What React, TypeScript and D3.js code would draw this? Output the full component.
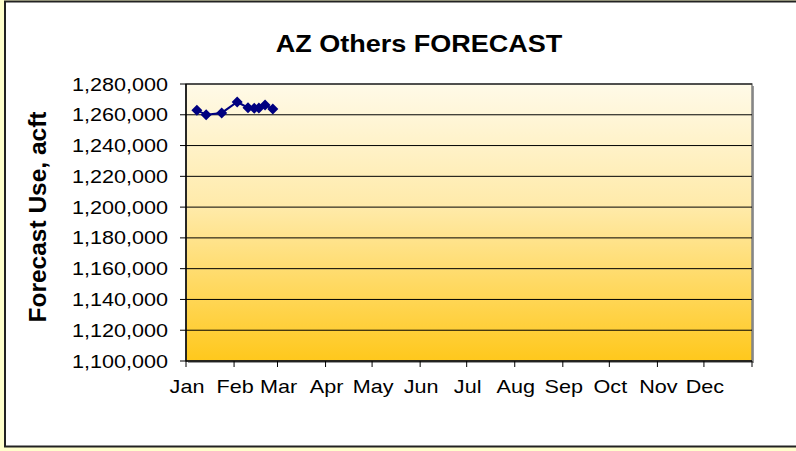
import React from "react";
import * as d3 from "d3";

const dates = ["2007-01-08", "2007-01-14", "2007-01-24", "2007-02-03", "2007-02-10", "2007-02-14", "2007-02-17", "2007-02-21", "2007-02-26"];
const values = [1263000, 1260000, 1261200, 1268300, 1264600, 1264300, 1264400, 1266300, 1263800];
const monthLabels = ["Jan", "Feb", "Mar", "Apr", "May", "Jun", "Jul", "Aug", "Sep", "Oct", "Nov", "Dec"];
const yTicks = [1100000, 1120000, 1140000, 1160000, 1180000, 1200000, 1220000, 1240000, 1260000, 1280000];

export default function App() {
  const W = 796, H = 451;
  const L = 186, R = 752, T = 84, B = 361;
  const parse = d3.timeParse("%Y-%m-%d");
  const x = d3.scaleTime().domain([new Date(2007, 0, 1), new Date(2008, 0, 1)]).range([L, R]);
  const y = d3.scaleLinear().domain([1100000, 1280000]).range([B, T]);
  const fmt = d3.format(",");
  const pts = dates.map((d, i) => ({ d: parse(d) as Date, v: values[i] }));
  const line = d3.line<{ d: Date; v: number }>().x(p => x(p.d)).y(p => y(p.v));
  const months = monthLabels.map((m, i) => ({ m, date: new Date(2007, i, 1) }));
  const font = "'Liberation Sans', Arial, sans-serif";
  const ds = 5.5;
  const sx = 1.2;
  return (
    <svg width={W} height={H} style={{ position: "absolute", left: 0, top: 0 }}>
      <defs>
        <linearGradient id="bg" x1="0" y1="0" x2="0" y2="1">
          <stop offset="0" stopColor="#FFFAE8" />
          <stop offset="0.45" stopColor="#FFEAA8" />
          <stop offset="1" stopColor="#FFC81C" />
        </linearGradient>
      </defs>
      <rect x={0} y={0} width={W} height={H} fill="#FFFFCC" />
      <rect x={5} y={1.5} width={W} height={445} fill="#FFFFFF" stroke="#222" strokeWidth={2} />
      <text transform={`translate(419,52) scale(1.15,1)`} textAnchor="middle" fontFamily={font} fontWeight="bold" fontSize={23.5}>AZ Others FORECAST</text>
      <rect x={L + 2} y={T + 2} width={R - L} height={B - T} fill="#9a9a9a" />
      <rect x={L} y={T} width={R - L} height={B - T} fill="url(#bg)" stroke="#808080" strokeWidth={1.5} />
      {yTicks.map(t => (
        <g key={t}>
          {t > 1100000 && <line x1={L} x2={R} y1={y(t)} y2={y(t)} stroke="#000" strokeWidth={1} />}
          <line x1={L - 6} x2={L} y1={y(t)} y2={y(t)} stroke="#000" strokeWidth={1} />
          <text transform={`translate(168,${y(t) + 6.5}) scale(${sx},1)`} textAnchor="end" fontFamily={font} fontSize={18}>{fmt(t)}</text>
        </g>
      ))}
      <line x1={L} x2={L} y1={T} y2={B} stroke="#000" strokeWidth={1.5} />
      <line x1={L} x2={R} y1={B} y2={B} stroke="#000" strokeWidth={1.5} />
      {months.map(({ m, date }) => (
        <g key={m}>
          <line x1={x(date)} x2={x(date)} y1={B} y2={B + 6} stroke="#000" strokeWidth={1} />
          <text transform={`translate(${x(date) + 1},393) scale(${sx},1)`} textAnchor="middle" fontFamily={font} fontSize={18}>{m}</text>
        </g>
      ))}
      <line x1={R} x2={R} y1={B} y2={B + 6} stroke="#000" strokeWidth={1} />
      <text transform={`translate(46,217) rotate(-90)`} textAnchor="middle" fontFamily={font} fontWeight="bold" fontSize={24.5}>Forecast Use, acft</text>
      <path d={line(pts) || ""} fill="none" stroke="#000080" strokeWidth={2} />
      {pts.map((p, i) => (
        <path key={i} d={`M${x(p.d)},${y(p.v) - ds}L${x(p.d) + ds},${y(p.v)}L${x(p.d)},${y(p.v) + ds}L${x(p.d) - ds},${y(p.v)}Z`} fill="#000080" />
      ))}
    </svg>
  );
}
